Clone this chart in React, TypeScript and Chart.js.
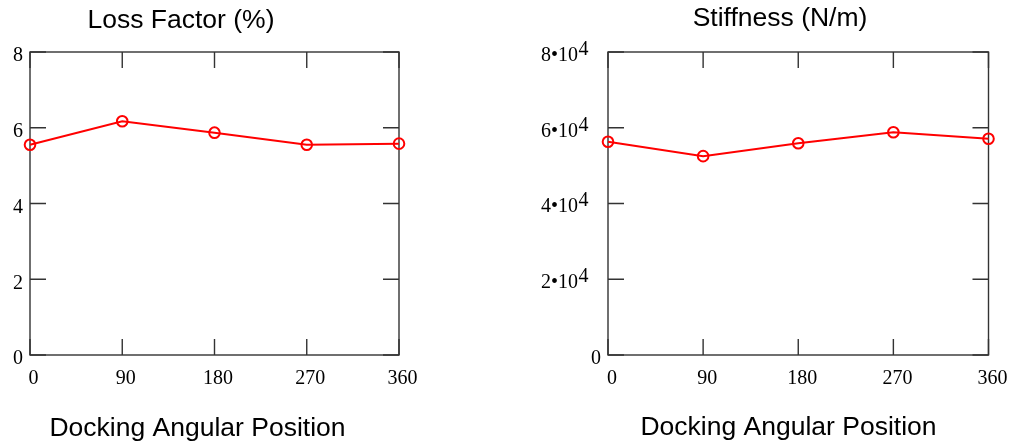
import React, { useEffect, useRef } from 'react';
import { Chart, registerables } from 'chart.js';

Chart.register(...registerables);

// ---- data ----
const angles = [0, 90, 180, 270, 360];
const lossFactor = [5.55, 6.17, 5.87, 5.55, 5.58];
const stiffness = [56300, 52500, 55900, 58800, 57100];
const xTickValues = [0, 90, 180, 270, 360];
const lossTickValues = [0, 2, 4, 6, 8];
const stiffTickValues = [0, 20000, 40000, 60000, 80000];
const lossTitle = 'Loss Factor (%)';
const stiffTitle = 'Stiffness (N/m)';
const xAxisTitle = 'Docking Angular Position';

const SERIF = '"Liberation Serif", "Times New Roman", serif';
const SANS = '"Liberation Sans", Arial, sans-serif';
const FRAME = '#333';
const TICK_FONT = 20;

const framePlugin = {
  id: 'frame',
  beforeDatasetsDraw(chart: any) {
    const { ctx, chartArea: a, scales } = chart;
    const x = scales.x;
    const y = scales.y;
    const L = 16;
    ctx.save();
    ctx.strokeStyle = FRAME;
    ctx.lineWidth = 1.4;
    ctx.strokeRect(a.left, a.top, a.width, a.height);
    ctx.beginPath();
    x.ticks.forEach((t: any) => {
      const px = x.getPixelForValue(t.value);
      ctx.moveTo(px, a.bottom);
      ctx.lineTo(px, a.bottom - L);
      ctx.moveTo(px, a.top);
      ctx.lineTo(px, a.top + L);
    });
    y.ticks.forEach((t: any) => {
      const py = y.getPixelForValue(t.value);
      ctx.moveTo(a.left, py);
      ctx.lineTo(a.left + L, py);
      ctx.moveTo(a.right, py);
      ctx.lineTo(a.right - L, py);
    });
    ctx.stroke();
    ctx.restore();
  },
};

const textPlugin = {
  id: 'texts',
  afterDraw(chart: any, _args: any, opts: any) {
    const { ctx, chartArea: a, scales } = chart;
    ctx.save();
    ctx.fillStyle = '#000';
    ctx.font = `26.5px ${SANS}`;
    ctx.textAlign = 'center';
    ctx.textBaseline = 'alphabetic';
    if (opts.title) ctx.fillText(opts.title, opts.titleX, opts.titleY);
    if (opts.xTitle) ctx.fillText(opts.xTitle, opts.xTitleX, opts.xTitleY);
    if (opts.powerLabels) {
      const y = scales.y;
      ctx.font = `${TICK_FONT}px ${SERIF}`;
      ctx.textBaseline = 'middle';
      y.ticks.forEach((t: any) => {
        const py = y.getPixelForValue(t.value) + 3.5;
        if (t.value === 0) {
          ctx.textAlign = 'right';
          ctx.fillText('0', a.left - 7, py);
        } else {
          const mant = t.value / 10000;
          ctx.textAlign = 'right';
          ctx.fillText(`${mant}\u202210`, a.left - 30, py);
          ctx.textAlign = 'left';
          ctx.fillText('4', a.left - 29.5, py - 6);
        }
      });
    }
    ctx.restore();
  },
};

type PanelProps = {
  left: number;
  width: number;
  values: number[];
  yTicks: number[];
  yMax: number;
  yWidth: number;
  padRight: number;
  xLabelOffset: number;
  power: boolean;
  texts: any;
};

function Panel(p: PanelProps) {
  const ref = useRef<HTMLCanvasElement>(null);
  useEffect(() => {
    if (!ref.current) return;
    const chart = new Chart(ref.current, {
      type: 'line',
      data: {
        datasets: [
          {
            data: angles.map((a, i) => ({ x: a, y: p.values[i] })),
            borderColor: '#ff0000',
            borderWidth: 2,
            pointRadius: 5.3,
            pointBorderWidth: 2,
            pointBorderColor: '#ff0000',
            pointBackgroundColor: 'rgba(0,0,0,0)',
            tension: 0,
            clip: false as any,
          },
        ],
      },
      options: {
        animation: false,
        responsive: false,
        maintainAspectRatio: false,
        layout: { padding: { left: 0, right: p.padRight, top: 52, bottom: 51 } },
        plugins: {
          legend: { display: false },
          tooltip: { enabled: false },
          texts: p.texts,
        } as any,
        scales: {
          x: {
            type: 'linear',
            min: 0,
            max: 360,
            grid: { display: false, drawTicks: false },
            border: { display: false },
            afterBuildTicks: (s: any) => {
              s.ticks = xTickValues.map((v) => ({ value: v }));
            },
            afterFit: (s: any) => {
              s.height = 40;
            },
            ticks: {
              font: { family: SERIF, size: TICK_FONT },
              color: '#000',
              padding: 11.5,
              labelOffset: p.xLabelOffset,
              maxRotation: 0,
              autoSkip: false,
            },
          },
          y: {
            type: 'linear',
            min: 0,
            max: p.yMax,
            grid: { display: false, drawTicks: false },
            border: { display: false },
            afterBuildTicks: (s: any) => {
              s.ticks = p.yTicks.map((v) => ({ value: v }));
            },
            afterFit: (s: any) => {
              s.width = p.yWidth;
            },
            ticks: {
              display: !p.power,
              font: { family: SERIF, size: TICK_FONT },
              color: '#000',
              padding: 7,
              labelOffset: 4,
            },
          },
        },
      } as any,
      plugins: [framePlugin, textPlugin],
    });
    return () => chart.destroy();
  }, []);
  return (
    <div style={{ position: 'absolute', left: p.left, top: 0, width: p.width, height: 446 }}>
      <canvas ref={ref} width={p.width} height={446} style={{ display: 'block' }} />
    </div>
  );
}

export default function App() {
  useEffect(() => {
    document.body.style.margin = '0';
  }, []);
  return (
    <div style={{ position: 'relative', width: 1015, height: 446, background: '#fff' }}>
      <Panel
        left={0}
        width={507}
        values={lossFactor}
        yTicks={lossTickValues}
        yMax={8}
        yWidth={30}
        padRight={108}
        xLabelOffset={3.5}
        power={false}
        texts={{
          title: lossTitle,
          titleX: 181,
          titleY: 28,
          xTitle: xAxisTitle,
          xTitleX: 197.5,
          xTitleY: 436,
        }}
      />
      <Panel
        left={507}
        width={508}
        values={stiffness}
        yTicks={stiffTickValues}
        yMax={80000}
        yWidth={101}
        padRight={25}
        xLabelOffset={4}
        power={true}
        texts={{
          title: stiffTitle,
          titleX: 273,
          titleY: 26,
          xTitle: xAxisTitle,
          xTitleX: 281.5,
          xTitleY: 435,
          powerLabels: true,
        }}
      />
    </div>
  );
}
